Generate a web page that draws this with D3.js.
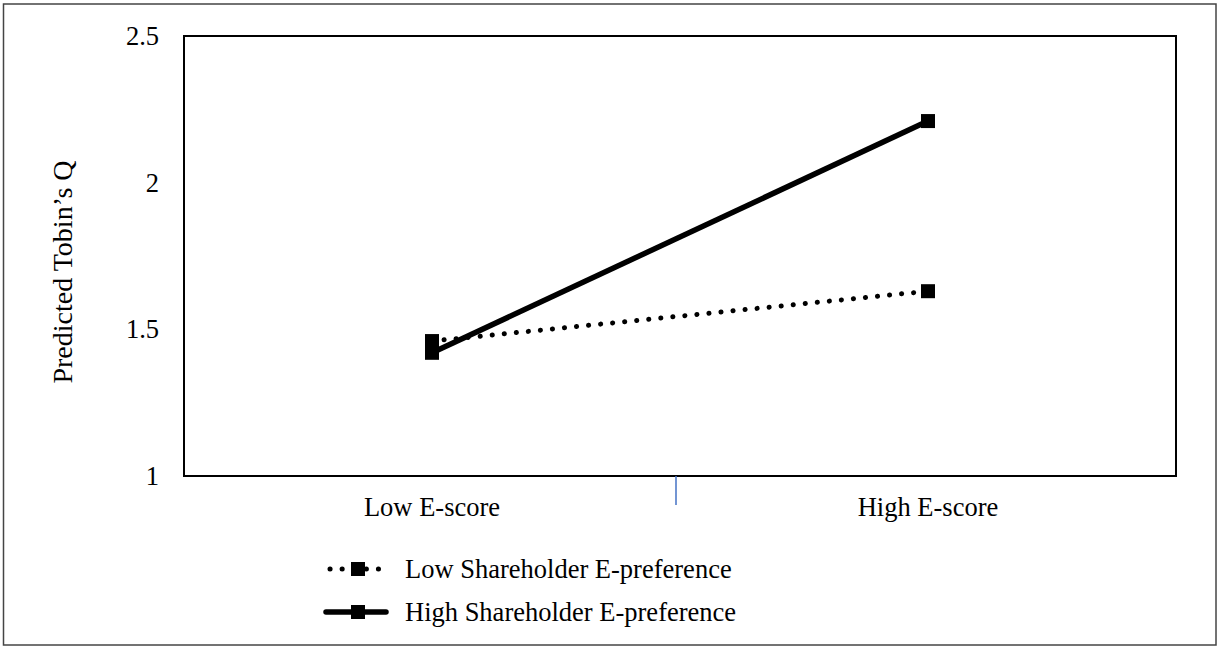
<!DOCTYPE html>
<html><head><meta charset="utf-8">
<script src="https://cdn.jsdelivr.net/npm/d3@7"></script>
<style>
html,body{margin:0;padding:0;background:#fff;}
svg text{font-family:"Liberation Serif","Times New Roman",serif !important;fill:#000;}
</style></head>
<body>
<svg id="chart" width="1218" height="646"></svg>
<script>
const categories = ["Low E-score", "High E-score"];
const seriesNames = ["Low Shareholder E-preference", "High Shareholder E-preference"];
const lowPref = [1.46, 1.63];
const highPref = [1.42, 2.21];
const yTicks = [1, 1.5, 2, 2.5];
const yLabels = ["1", "1.5", "2", "2.5"];
const yTitle = "Predicted Tobin\u2019s Q";

const svg = d3.select("#chart");
const m = {left:184, right:1176, top:36, bottom:476};
const FS = 26.5;

// outer frame
svg.append("rect").attr("x",3.5).attr("y",4).attr("width",1212.5).attr("height",641)
  .attr("fill","none").attr("stroke","#444").attr("stroke-width",1.5);

const x = d3.scaleBand().domain(categories).range([m.left, m.right]).paddingInner(0).paddingOuter(0);
const y = d3.scaleLinear().domain([1, 2.5]).range([m.bottom, m.top]);

// plot frame
svg.append("rect").attr("x",m.left).attr("y",m.top).attr("width",m.right-m.left).attr("height",m.bottom-m.top)
  .attr("fill","none").attr("stroke","#000").attr("stroke-width",2);

// y axis labels
const yAxis = d3.axisLeft(y).tickValues(yTicks).tickFormat((d,i)=>yLabels[i]).tickSize(0).tickPadding(25);
const gy = svg.append("g").attr("transform",`translate(${m.left},0)`).call(yAxis)
  .attr("font-family","Liberation Serif");
gy.select(".domain").remove();
gy.selectAll("text").style("font-size",FS+"px").attr("fill","#000");

// x axis labels
const xAxis = d3.axisBottom(x).tickSize(0).tickPadding(21);
const gx = svg.append("g").attr("transform",`translate(0,${m.bottom})`).call(xAxis)
  .attr("font-family","Liberation Serif");
gx.select(".domain").remove();
gx.selectAll("text").style("font-size",FS+"px").attr("fill","#000");

// blue separator tick between categories
svg.append("line").attr("x1", x(categories[1]) - 4).attr("x2", x(categories[1]) - 4)
  .attr("y1", m.bottom).attr("y2", m.bottom + 29)
  .attr("stroke","#4472c4").attr("stroke-width",1.5);

// y title
svg.append("text").attr("transform",`translate(72,272) rotate(-90)`)
  .attr("text-anchor","middle").style("font-size","28px").text(yTitle);

const cx = c => x(c) + x.bandwidth()/2;
const line = d3.line().x(d=>cx(d.c)).y(d=>y(d.v));
const toPts = arr => categories.map((c,i)=>({c, v:arr[i]}));

// low pref dotted
svg.append("path").datum(toPts(lowPref)).attr("d",line).attr("fill","none")
  .attr("stroke","#000").attr("stroke-width",5).attr("stroke-linecap","round")
  .attr("stroke-dasharray","0.1 12");
// high pref solid
svg.append("path").datum(toPts(highPref)).attr("d",line).attr("fill","none")
  .attr("stroke","#000").attr("stroke-width",5.5);

const S = 14;
[lowPref, highPref].forEach(arr=>{
  svg.selectAll(null).data(toPts(arr)).enter().append("rect")
    .attr("x",d=>cx(d.c)-S/2).attr("y",d=>y(d.v)-S/2).attr("width",S).attr("height",S).attr("fill","#000");
});

// legend
const lg = svg.append("g");
const legY = [569, 612];
lg.append("line").attr("x1",330).attr("x2",386).attr("y1",legY[0]).attr("y2",legY[0])
  .attr("stroke","#000").attr("stroke-width",5).attr("stroke-linecap","round").attr("stroke-dasharray","0.1 12");
lg.append("rect").attr("x",351).attr("y",legY[0]-7).attr("width",14).attr("height",14).attr("fill","#000");
lg.append("line").attr("x1",326).attr("x2",386).attr("y1",legY[1]).attr("y2",legY[1])
  .attr("stroke","#000").attr("stroke-width",5.5).attr("stroke-linecap","round");
lg.append("rect").attr("x",351).attr("y",legY[1]-7).attr("width",14).attr("height",14).attr("fill","#000");
seriesNames.forEach((n,i)=>{
  lg.append("text").attr("x",405).attr("y",legY[i]).attr("dy","0.35em").style("font-size",FS+"px").text(n);
});
</script>
</body></html>
